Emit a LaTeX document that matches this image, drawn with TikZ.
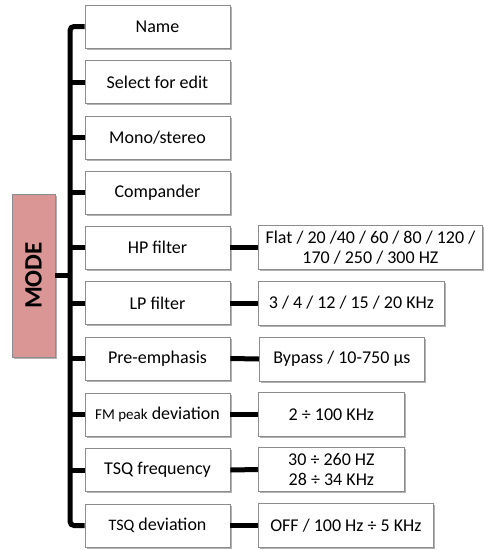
\documentclass[tikz,border=0pt]{standalone}
\usepackage{fontspec}
\setmainfont{Carlito}
\usetikzlibrary{shadows}
\definecolor{boxborder}{HTML}{8C8C8C}
\definecolor{modepink}{HTML}{D99694}
\tikzset{
  item/.style={draw=boxborder, line width=0.8pt, fill=white, minimum width=145pt, minimum height=43pt, font=\fontsize{18}{20}\selectfont, align=center, inner sep=1pt,
    drop shadow={shadow xshift=1.5pt, shadow yshift=-1.8pt, fill=black, opacity=0.3}},
  val/.style={draw=boxborder, line width=0.8pt, fill=white, minimum height=44pt, font=\fontsize{18}{19.5}\selectfont, align=center, inner sep=1pt, anchor=west,
    drop shadow={shadow xshift=1.5pt, shadow yshift=-1.8pt, fill=black, opacity=0.3}},
  link/.style={line width=5pt, black},
}
\begin{document}
\begin{tikzpicture}[x=1pt,y=-1pt]
\useasboundingbox (0,0) rectangle (484,550);
% MODE
\node[draw=boxborder, line width=0.8pt, fill=modepink, minimum width=43pt, minimum height=163pt, inner sep=0pt,
  drop shadow={shadow xshift=1.5pt, shadow yshift=-1.8pt, fill=black, opacity=0.3}] (mode) at (33.5,275.5) {};
\node[rotate=90, font=\fontsize{25}{27}\selectfont\bfseries] (modet) at (mode.center) {MODE};
% left column
\node[item] (n1) at (157.5,26.5) {Name};
\node[item] (n2) at (157.5,82) {Select for edit};
\node[item] (n3) at (157.5,137.5) {Mono/stereo};
\node[item] (n4) at (157.5,192.5) {Compander};
\node[item] (n5) at (157.5,247.5) {HP filter};
\node[item] (n6) at (157.5,303) {LP filter};
\node[item] (n7) at (157.5,358.5) {Pre-emphasis};
\node[item] (n8) at (157.5,414.5) {{\fontsize{15}{16}\selectfont FM peak} deviation};
\node[item] (n9) at (157.5,470) {TSQ frequency};
\node[item] (n10) at (157.5,525.5) {{\fontsize{16}{17}\selectfont TSQ} deviation};
% value boxes
\node[val, minimum width=224pt] (v5) at (258,247.5) {Flat / 20 /40 / 60 / 80 / 120 /\\170 / 250 / 300 HZ};
\node[val, minimum width=186pt] (v6) at (258,303) {3 / 4 / 12 / 15 / 20 KHz};
\node[val, minimum width=165pt] (v7) at (259,359) {Bypass / 10-750 μs};
\node[val, minimum width=146pt] (v8) at (258,414.5) {2 ÷ 100 KHz};
\node[val, minimum width=146pt] (v9) at (258,469.5) {30 ÷ 260 HZ\\28 ÷ 34 KHz};
\node[val, minimum width=175pt] (v10) at (258,525.5) {OFF / 100 Hz ÷ 5 KHz};
% bar
\coordinate (bx) at (70,0);
\draw[link, rounded corners=4pt] (n1.west) -- (bx |- n1.west) -- (bx |- n10.west) -- (n10.west);
\foreach \i in {2,...,9} { \draw[link] (bx |- n\i.west) -- (n\i.west); }
\draw[link] (mode.east) -- (bx |- mode.east);
\foreach \i in {5,...,10} { \draw[link] (n\i.east) -- (v\i.west); }
\end{tikzpicture}
\end{document}
